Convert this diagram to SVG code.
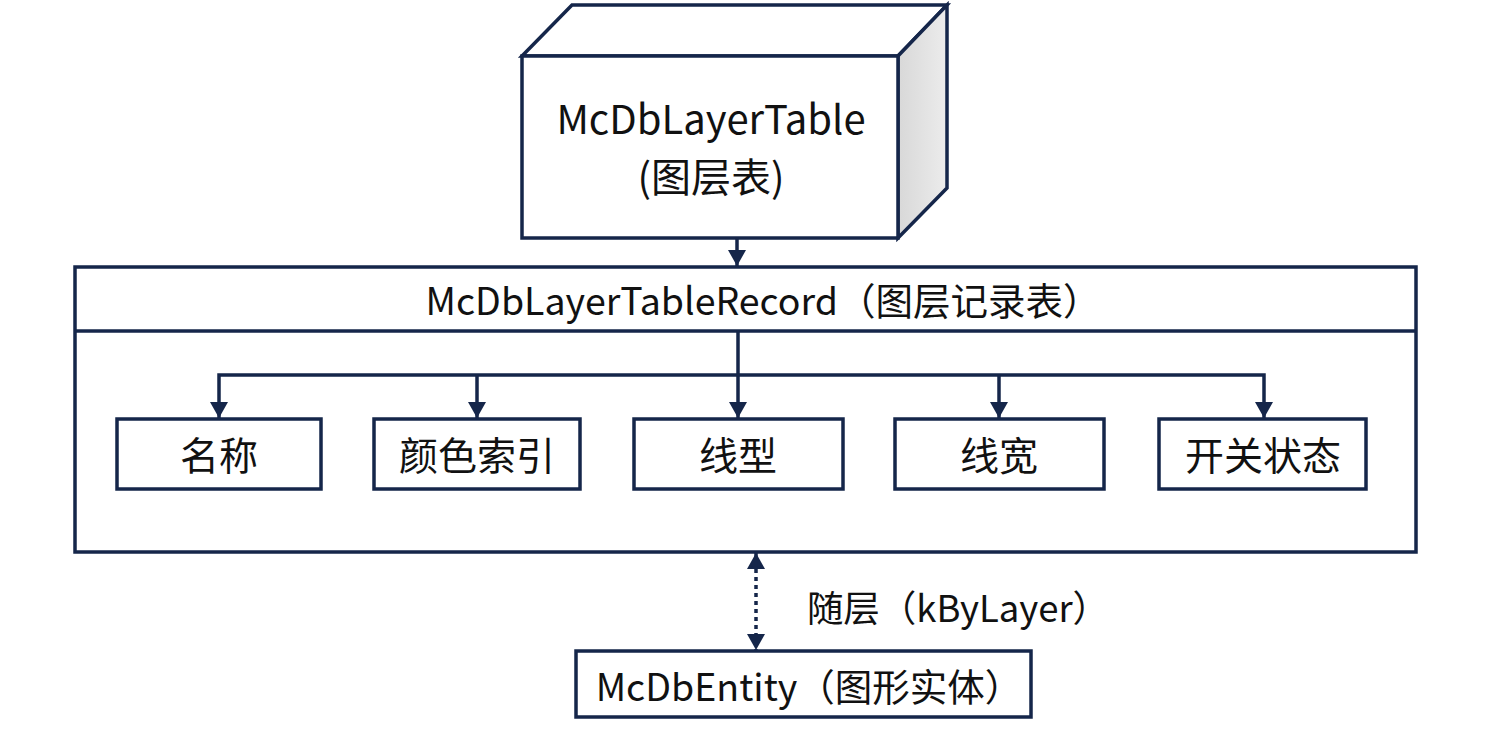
<svg xmlns="http://www.w3.org/2000/svg" width="1487" height="739" viewBox="0 0 1487 739">
<defs>
<style>
.b{fill:#fff;stroke:#15264a;stroke-width:3.5}
.l{fill:none;stroke:#15264a;stroke-width:3.5}
.t{font-family:"Noto Sans CJK SC","Noto Sans",sans-serif;font-weight:400;fill:#111;text-anchor:middle}
</style>
<linearGradient id="side" x1="0" y1="0" x2="1" y2="0">
<stop offset="0" stop-color="#d8d8d8"/><stop offset="1" stop-color="#ececec"/>
</linearGradient>
<marker id="a" viewBox="0 0 16 18" refX="16" refY="9" markerWidth="16" markerHeight="18" markerUnits="userSpaceOnUse" orient="auto-start-reverse">
<path d="M0,0 L16,9 L0,18 z" fill="#15264a"/>
</marker>
</defs>
<rect width="1487" height="739" fill="#fff"/>
<g id="layerTable">
<polygon class="b" points="522,56 572,5 947,5 898,56"/>
<polygon points="898,56 947,5 947,188 898,238" fill="url(#side)" stroke="#15264a" stroke-width="3.5"/>
<rect class="b" x="522" y="56" width="376" height="182"/>
<text class="t" x="711" y="134" font-size="40">McDbLayerTable</text>
<text class="t" x="711" y="192" font-size="40">(图层表)</text>
</g>
<g id="layerTableRecord">
<rect class="b" x="75" y="267" width="1341" height="285"/>
<line class="l" x1="75" y1="331" x2="1416" y2="331"/>
<text class="t" x="763" y="315" font-size="37.5">McDbLayerTableRecord（图层记录表）</text>
</g>
<g id="name"><rect class="b" x="117" y="419" width="204" height="70"/><text class="t" x="219" y="470" font-size="39">名称</text></g>
<g id="color"><rect class="b" x="374" y="419" width="206" height="70"/><text class="t" x="477" y="470" font-size="39">颜色索引</text></g>
<g id="linetype"><rect class="b" x="634" y="419" width="209" height="70"/><text class="t" x="738" y="470" font-size="39">线型</text></g>
<g id="lineweight"><rect class="b" x="895" y="419" width="209" height="70"/><text class="t" x="999" y="470" font-size="39">线宽</text></g>
<g id="state"><rect class="b" x="1159" y="419" width="207" height="70"/><text class="t" x="1263" y="470" font-size="39">开关状态</text></g>
<g id="entity">
<rect class="b" x="576" y="651" width="455" height="66"/>
<text class="t" x="809" y="701" font-size="37.5">McDbEntity（图形实体）</text>
</g>
<g id="connectors">
<line class="l" x1="737" y1="238" x2="737" y2="266" marker-end="url(#a)"/>
<line class="l" x1="738" y1="331" x2="738" y2="418" marker-end="url(#a)"/>
<polyline class="l" points="219,418 219,375 1264,375 1264,418" marker-start="url(#a)" marker-end="url(#a)"/>
<line class="l" x1="477" y1="375" x2="477" y2="418" marker-end="url(#a)"/>
<line class="l" x1="999" y1="375" x2="999" y2="418" marker-end="url(#a)"/>
<line x1="756" y1="553" x2="756" y2="650" stroke="#15264a" stroke-width="3.5" stroke-dasharray="4,4" marker-start="url(#a)" marker-end="url(#a)"/>
<text class="t" x="958" y="622" font-size="36.5">随层（kByLayer）</text>
</g>
</svg>
